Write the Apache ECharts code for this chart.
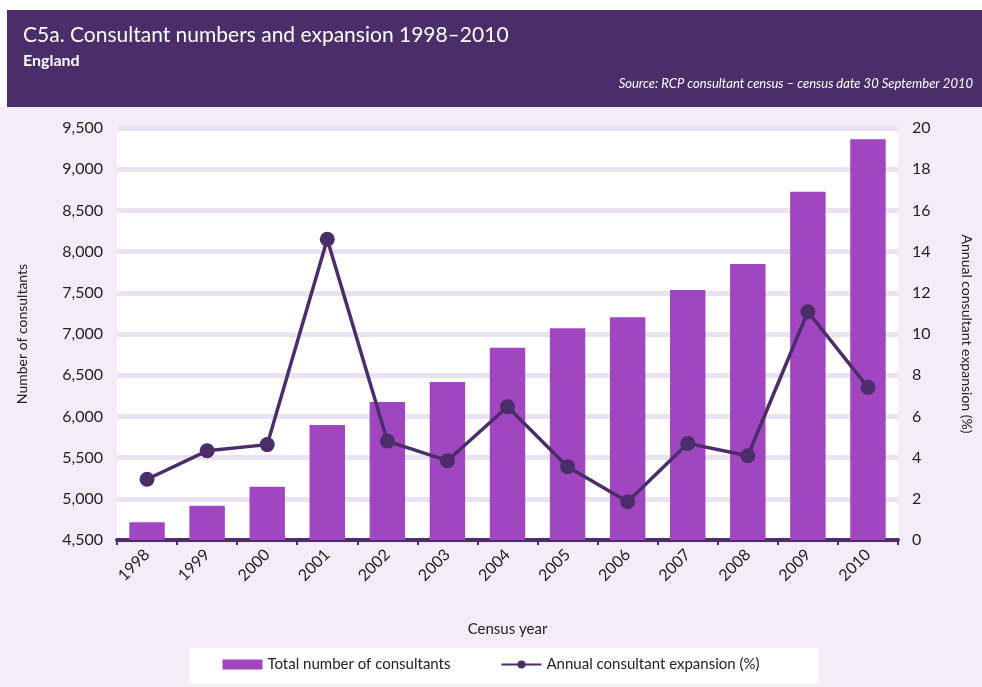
<!DOCTYPE html>
<html><head><meta charset="utf-8">
<script src="https://cdn.jsdelivr.net/npm/echarts@6/dist/echarts.min.js"></script>
<style>html,body{margin:0;padding:0;background:#fff}#c{width:982px;height:687px}</style>
</head><body><div id="c"></div>
<script>
const years = ['1998','1999','2000','2001','2002','2003','2004','2005','2006','2007','2008','2009','2010'];
const consultants = [4715,4916,5147,5896,6175,6417,6834,7069,7203,7534,7850,8727,9363];
const expansion = [2.95,4.33,4.63,14.6,4.8,3.85,6.47,3.56,1.86,4.69,4.09,11.08,7.41];
const leftTicks = {min:4500, max:9500, interval:500};
const rightTicks = {min:0, max:20, interval:2};

const FONT = 'Lato, "Open Sans", sans-serif';
const chart = echarts.init(document.getElementById('c'));
chart.setOption({
  backgroundColor: '#f4ecf7',
  textStyle: {fontFamily: FONT},
  graphic: [
    {type:'rect', shape:{x:0,y:0,width:982,height:10}, style:{fill:'#ffffff'}, z:-1},
    {type:'rect', shape:{x:0,y:0,width:7,height:107}, style:{fill:'#ffffff'}, z:-1},
    {type:'rect', shape:{x:7,y:10,width:975,height:97}, style:{fill:'#4b2d69'}, z:-1},
    {type:'rect', shape:{x:190,y:648,width:628,height:36}, style:{fill:'#ffffff'}, z:-1}
  ],
  title: [
    {text:'C5a. Consultant numbers and expansion 1998\u20132010', left:18, top:20,
     textStyle:{color:'#ffffff', fontSize:21, fontWeight:'normal', fontFamily:FONT}},
    {text:'England', left:18, top:48,
     textStyle:{color:'#ffffff', fontSize:16, fontWeight:'bold', fontFamily:FONT}},
    {text:'Source: RCP consultant census \u2013 census date 30 September 2010', right:4, top:72,
     textStyle:{color:'#ffffff', fontSize:13, fontWeight:'normal', fontStyle:'italic', fontFamily:FONT}}
  ],
  grid: {left:117, right:74, top:128, bottom:147, show:true, backgroundColor:'#ffffff', borderWidth:0},
  legend: {
    bottom: 10, left: 'center',
    itemWidth: 40, itemHeight: 10, itemGap: 50,
    textStyle: {fontSize:15, color:'#222', fontFamily:FONT},
    data: [
      {name:'Total number of consultants', icon:'rect'},
      {name:'Annual consultant expansion (%)'}
    ]
  },
  xAxis: {
    type:'category', data: years,
    name:'Census year', nameLocation:'middle', nameGap:82,
    nameTextStyle:{fontSize:15, color:'#222'},
    axisLine:{lineStyle:{color:'#4b2d69', width:4}},
    axisTick:{show:true, length:5, lineStyle:{color:'#4b2d69', width:2}},
    axisLabel:{rotate:45, fontSize:16, color:'#222', margin:12}
  },
  yAxis: [
    {type:'value', min:leftTicks.min, max:leftTicks.max, interval:leftTicks.interval,
     name:'Number of consultants', nameLocation:'middle', nameGap:88,
     nameTextStyle:{fontSize:14, color:'#222'},
     axisLine:{show:false}, axisTick:{show:false},
     axisLabel:{fontSize:16, color:'#222', margin:14,
       formatter: v => v.toString().replace(/\B(?=(\d{3})+(?!\d))/g, ',')},
     splitLine:{lineStyle:{color:'#ebe2f1', width:5}}
    },
    {type:'value', min:rightTicks.min, max:rightTicks.max, interval:rightTicks.interval,
     name:'Annual consultant expansion (%)', nameLocation:'middle', nameGap:62, nameRotate:-90,
     nameTextStyle:{fontSize:14, color:'#222'},
     axisLine:{show:false}, axisTick:{show:false},
     axisLabel:{fontSize:16, color:'#222', margin:14},
     splitLine:{show:false}
    }
  ],
  series: [
    {name:'Total number of consultants', type:'bar', data: consultants, yAxisIndex:0,
     barWidth:'59%', itemStyle:{color:'#a046c1'}},
    {name:'Annual consultant expansion (%)', type:'line', data: expansion, yAxisIndex:1,
     symbol:'circle', symbolSize:15,
     lineStyle:{color:'#4b2d69', width:3.5}, itemStyle:{color:'#4b2d69'}}
  ]
});
</script></body></html>
